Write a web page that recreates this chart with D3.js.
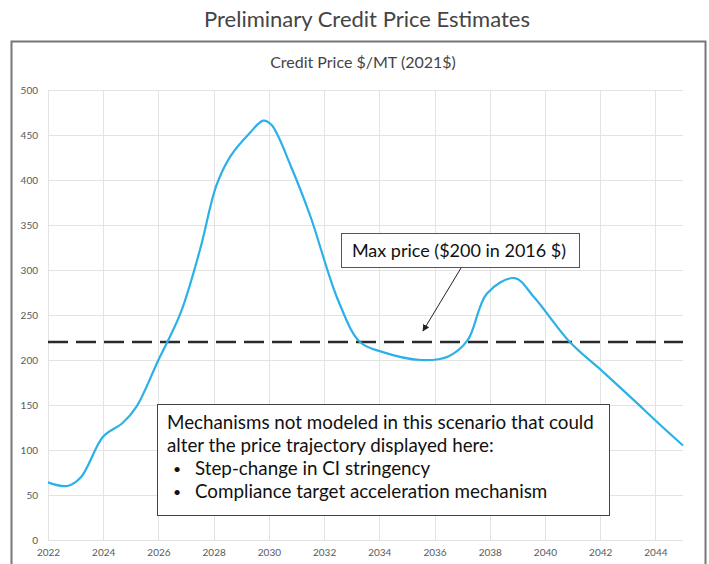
<!DOCTYPE html>
<html>
<head>
<meta charset="utf-8">
<script src="https://cdn.jsdelivr.net/npm/d3@7"></script>
<style>
  body { margin: 0; background: #fff; }
  svg { display: block; font-family: Lato, "Open Sans", sans-serif; }
</style>
</head>
<body>
<svg id="chart" width="709" height="564"></svg>
<script>
'use strict'

const years = [2022, 2022.7, 2023.2, 2024, 2024.7, 2025.2, 2026, 2026.8, 2027.5, 2028.1, 2028.6, 2029.3, 2029.8, 2030.1, 2030.8, 2031.5, 2032.5, 2033.3, 2034.1, 2035.5, 2036.5, 2037.2, 2037.9, 2038.9, 2039.6, 2040.9, 2042.1, 2043.2, 2044.1, 2045]
const prices = [64, 60, 70, 115, 130, 148, 200, 252, 322, 394, 426, 452, 466, 461, 415, 360, 267, 220, 209, 200, 204, 222, 274, 291, 270, 220, 187, 156, 130, 105]
const maxPrice = 220
const xTicks = [2022, 2024, 2026, 2028, 2030, 2032, 2034, 2036, 2038, 2040, 2042, 2044]
const yTicks = [0, 50, 100, 150, 200, 250, 300, 350, 400, 450, 500]
const noteLines = ['Mechanisms not modeled in this scenario that could', 'alter the price trajectory displayed here:']
const bullets = ['Step-change in CI stringency', 'Compliance target acceleration mechanism']

const svg = d3.select('#chart')
const m = { left: 48, right: 683, top: 90, bottom: 540 }

let x = d3.scaleLinear().domain([2022, 2045]).range([m.left, m.right])
let y = d3.scaleLinear().domain([0, 500]).range([m.bottom, m.top])

svg.append('text').attr('x', 367).attr('y', 27).attr('text-anchor', 'middle')
    .attr('font-size', '22px').attr('fill', '#444').text('Preliminary Credit Price Estimates')

// outer frame
svg.append('rect').attr('x', 11.5).attr('y', 41.5).attr('width', 694).attr('height', 540)
    .attr('fill', 'none').attr('stroke', '#777').attr('stroke-width', 2)

svg.append('text').attr('x', 363).attr('y', 68).attr('text-anchor', 'middle')
    .attr('font-size', '16px').attr('fill', '#444').text('Credit Price $/MT (2021$)')

// grid
let grid = svg.append('g').attr('stroke', '#e3e3e3').attr('stroke-width', 1)
grid.selectAll('.h').data(yTicks).enter().append('line')
    .attr('x1', m.left).attr('x2', m.right).attr('y1', d => y(d) + 0.5).attr('y2', d => y(d) + 0.5)
grid.selectAll('.v').data(xTicks).enter().append('line')
    .attr('x1', d => Math.round(x(d)) + 0.5).attr('x2', d => Math.round(x(d)) + 0.5).attr('y1', m.top).attr('y2', m.bottom)

svg.append('g').attr('transform', `translate(${m.left},0)`)
    .call(d3.axisLeft(y).tickValues(yTicks).tickSize(0).tickPadding(10))
    .call(g => g.select('.domain').remove())
    .call(g => g.selectAll('text').attr('font-size', '10px').attr('fill', '#595959').attr('font-family', 'Lato, sans-serif'))

svg.append('g').attr('transform', `translate(0,${m.bottom})`)
    .call(d3.axisBottom(x).tickValues(xTicks).tickFormat(d3.format('d')).tickSize(0).tickPadding(9))
    .call(g => g.select('.domain').remove())
    .call(g => g.selectAll('text').attr('font-size', '10px').attr('fill', '#595959').attr('font-family', 'Lato, sans-serif'))

// max price line
svg.append('line').attr('x1', m.left).attr('x2', m.right).attr('y1', y(maxPrice)).attr('y2', y(maxPrice))
    .attr('stroke', '#2a2a2a').attr('stroke-width', 2.5).attr('stroke-dasharray', '20,8')

let line = d3.line().x(d => x(d[0])).y(d => y(d[1])).curve(d3.curveCatmullRom.alpha(0.5))
svg.append('path').datum(years.map((d, i) => [d, prices[i]]))
    .attr('d', line).attr('fill', 'none').attr('stroke', '#2bb0e8').attr('stroke-width', 2.2)

// callout
svg.append('defs').append('marker').attr('id', 'arrow').attr('viewBox', '0 0 10 10')
    .attr('refX', 9).attr('refY', 5).attr('markerWidth', 7).attr('markerHeight', 7).attr('orient', 'auto')
    .append('path').attr('d', 'M0,0 L10,5 L0,10 z').attr('fill', '#222')
svg.append('line').attr('x1', 461).attr('y1', 268).attr('x2', 423).attr('y2', 331)
    .attr('stroke', '#222').attr('stroke-width', 1).attr('marker-end', 'url(#arrow)')
svg.append('rect').attr('x', 341.5).attr('y', 233.5).attr('width', 238).attr('height', 34)
    .attr('fill', '#fff').attr('stroke', '#555').attr('stroke-width', 1)
svg.append('text').attr('x', 459).attr('y', 257).attr('text-anchor', 'middle')
    .attr('font-size', '18px').attr('fill', '#111').text('Max price ($200 in 2016 $)')

// note box
svg.append('rect').attr('x', 157.5).attr('y', 404.5).attr('width', 452).attr('height', 111)
    .attr('fill', '#fff').attr('stroke', '#444').attr('stroke-width', 1)
let note = svg.append('g').attr('font-size', '18.8px').attr('fill', '#111')
note.selectAll('.l').data(noteLines).enter().append('text')
    .attr('x', 167).attr('y', (d, i) => 429 + i * 23).text(d => d)
note.selectAll('.b').data(bullets).enter().append('text')
    .attr('x', 173).attr('y', (d, i) => 474 + i * 23).attr('font-size', '14px').text('•')
note.selectAll('.bt').data(bullets).enter().append('text')
    .attr('x', 195).attr('y', (d, i) => 475 + i * 23).text(d => d)
</script>
</body>
</html>
